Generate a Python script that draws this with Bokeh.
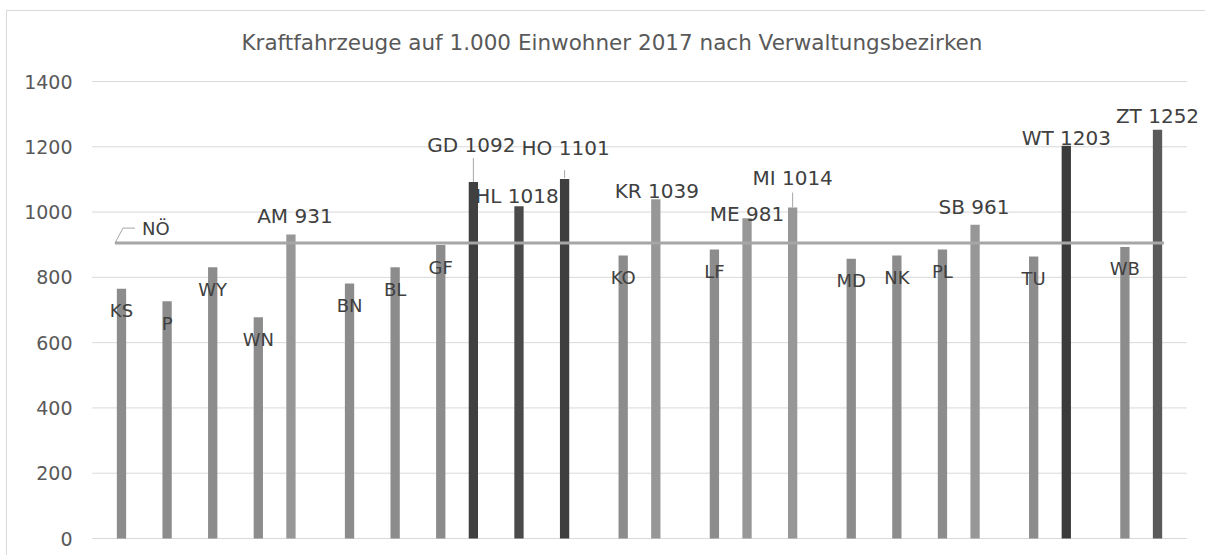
from bokeh.plotting import figure
from bokeh.models import ColumnDataSource, FactorRange, Range1d, FixedTicker, LabelSet
from bokeh.transform import dodge
from bokeh.core.properties import value
from bokeh.embed import file_html
from bokeh.resources import INLINE

# ---------------- data ----------------
TITLE = "Kraftfahrzeuge auf 1.000 Einwohner 2017 nach Verwaltungsbezirken"
districts = ["KS", "P", "WY", "WN", "AM", "BN", "BL", "GF", "GD", "HL", "HO", "KO",
             "KR", "LF", "ME", "MI", "MD", "NK", "PL", "SB", "TU", "WT", "WB", "ZT"]
kfz_per_1000 = [765, 727, 831, 678, 931, 781, 831, 899, 1092, 1018, 1101, 867,
                1039, 885, 981, 1014, 857, 867, 885, 961, 864, 1203, 893, 1252]
noe_label = "NÖ"
noe_avg = 905
y_ticks = [0, 200, 400, 600, 800, 1000, 1200, 1400]

# ---------------- layout / style ----------------
FONT = "DejaVu Sans"
CAT_PX = 1095 / len(districts)        # pixels per category
X_PAD = 0.3                           # extra categories of room left/right
FRAME_W = round((len(districts) + 2 * X_PAD) * CAT_PX)
Y_MAX = 1400
PX_PER_UNIT = 457 / Y_MAX
UPP = 1 / PX_PER_UNIT                 # data units per pixel (y)
Y_PAD = 3 * UPP
FRAME_H = 463
BAR_OFF = 6.5 / CAT_PX                # half distance between the two series slots
BAR_W = 9.3 / CAT_PX

COL_BELOW = "#8c8c8c"
COL_ABOVE = "#979797"
GRID_COL = "#d9d9d9"
dark_cols = {"GD": "#404040", "HL": "#4a4a4a", "HO": "#3f3f3f", "WT": "#3a3a3a", "ZT": "#5a5a5a"}
# label offsets in screen px (dx, dy; dy positive = up)
above_lbl_off = {"AM": (4, 19), "GD": (-2, 37), "HL": (-2, 10), "HO": (1, 31),
                 "KR": (1, 8), "ME": (0, 4), "MI": (0, 30), "SB": (-1, 18),
                 "WT": (0, 8), "ZT": (0, 14)}
below_lbl_dy = 22                 # px below bar top (text glyph, positive = down)
leaders = {"GD": (0, 24), "HO": (1, 9), "MI": (0, 15)}   # px above bar top (start, end)

# ---------------- sources ----------------
ab = {"cat": [], "val": [], "color": [], "label": [], "dx": [], "dy": []}
be = {"cat": [], "val": [], "color": [], "label": [], "dx": [], "dy": []}
for d, v in zip(districts, kfz_per_1000):
    if v > noe_avg:
        dx, dy = above_lbl_off.get(d, (0, 12))
        ab["cat"].append(d); ab["val"].append(v)
        ab["color"].append(dark_cols.get(d, COL_ABOVE))
        ab["label"].append(f"{d} {v}"); ab["dx"].append(dx); ab["dy"].append(dy)
    else:
        be["cat"].append(d); be["val"].append(v)
        be["color"].append(dark_cols.get(d, COL_BELOW))
        be["label"].append(d); be["dx"].append(0); be["dy"].append(below_lbl_dy)
src_ab = ColumnDataSource(ab)
src_be = ColumnDataSource(be)

ld = {"cat": [], "y0": [], "y1": []}
for d, v in zip(districts, kfz_per_1000):
    if d in leaders:
        s, e = leaders[d]
        ld["cat"].append(d); ld["y0"].append(v + s * UPP); ld["y1"].append(v + e * UPP)
src_ld = ColumnDataSource(ld)

noe_src = ColumnDataSource({"c": [districts[0]], "y": [noe_avg],
                            "yl": [noe_avg + 15 * UPP], "t": [noe_label]})
grid_src = ColumnDataSource({"c0": [districts[0]] * len(y_ticks),
                             "c1": [districts[-1]] * len(y_ticks), "y": y_ticks})

# ---------------- figure ----------------
border_css = ("linear-gradient(#d9d9d9,#d9d9d9) 6px 10px / 100% 1px no-repeat, "
              "linear-gradient(#d9d9d9,#d9d9d9) 6px 10px / 1px 100% no-repeat, white")
p = figure(x_range=FactorRange(*districts, range_padding=X_PAD,
                               range_padding_units="absolute", factor_padding=0),
           y_range=Range1d(-Y_PAD, Y_MAX + Y_PAD),
           frame_width=FRAME_W, frame_height=FRAME_H,
           min_border_left=78, min_border_right=5, min_border_top=78, min_border_bottom=14,
           output_backend="svg", toolbar_location=None,
           styles={"background": border_css})
p.outline_line_color = None
p.background_fill_color = None
p.border_fill_color = None

p.title.text = TITLE
p.title.align = "left"
p.title.offset = 163
p.title.standoff = 47
p.title.text_font = FONT
p.title.text_font_size = "21.5px"
p.title.text_font_style = "normal"
p.title.text_color = "#595959"

p.xaxis.visible = False
p.xgrid.grid_line_color = None
p.ygrid.grid_line_color = None
p.yaxis.ticker = FixedTicker(ticks=y_ticks)
p.yaxis.axis_line_color = None
p.yaxis.major_tick_line_color = None
p.yaxis.minor_tick_line_color = None
p.yaxis.major_tick_out = 0
p.yaxis.major_tick_in = 0
p.yaxis.major_label_standoff = 6
p.yaxis.major_label_text_font = FONT
p.yaxis.major_label_text_font_size = "19px"
p.yaxis.major_label_text_color = "#595959"

# horizontal gridlines spanning the category area
p.segment(x0=dodge("c0", -0.5, range=p.x_range), y0="y",
          x1=dodge("c1", 0.5, range=p.x_range), y1="y",
          line_color=GRID_COL, line_width=1, source=grid_src)

# bars
p.vbar(x=dodge("cat", -BAR_OFF, range=p.x_range), top="val", width=BAR_W,
       color="color", line_color=None, source=src_ab)
p.vbar(x=dodge("cat", BAR_OFF, range=p.x_range), top="val", width=BAR_W,
       color="color", line_color=None, source=src_be)

# NÖ average line across all categories
p.line(x=districts, y=[noe_avg] * len(districts), line_width=3, line_color="#a6a6a6")

# NÖ label with leader
p.segment(x0="c", y0="y", x1=dodge("c", 8 / CAT_PX, range=p.x_range), y1="yl",
          line_color="#a6a6a6", line_width=1, source=noe_src)
p.segment(x0=dodge("c", 8 / CAT_PX, range=p.x_range), y0="yl",
          x1=dodge("c", 20 / CAT_PX, range=p.x_range), y1="yl",
          line_color="#a6a6a6", line_width=1, source=noe_src)
p.text(x=dodge("c", 27 / CAT_PX, range=p.x_range), y="y", text="t",
       y_offset=-15, text_align="left", text_baseline="middle",
       text_font=value(FONT), text_font_size="18px", text_color="#404040",
       source=noe_src)

# leader lines for moved labels
p.segment(x0=dodge("cat", -BAR_OFF, range=p.x_range), y0="y0",
          x1=dodge("cat", -BAR_OFF, range=p.x_range), y1="y1",
          line_color="#a6a6a6", line_width=1, source=src_ld)

# data labels
p.add_layout(LabelSet(x=dodge("cat", -BAR_OFF, range=p.x_range), y="val", text="label",
                      x_offset="dx", y_offset="dy", text_align="center",
                      text_baseline="middle", text_font=value(FONT),
                      text_font_size="20px", text_color="#404040", source=src_ab))
p.text(x=dodge("cat", BAR_OFF, range=p.x_range), y="val", text="label",
       x_offset="dx", y_offset="dy", text_align="center", text_baseline="middle",
       text_font=value(FONT), text_font_size="18px", text_color="#404040", source=src_be)

open("out.html", "w").write(file_html(p, INLINE))
